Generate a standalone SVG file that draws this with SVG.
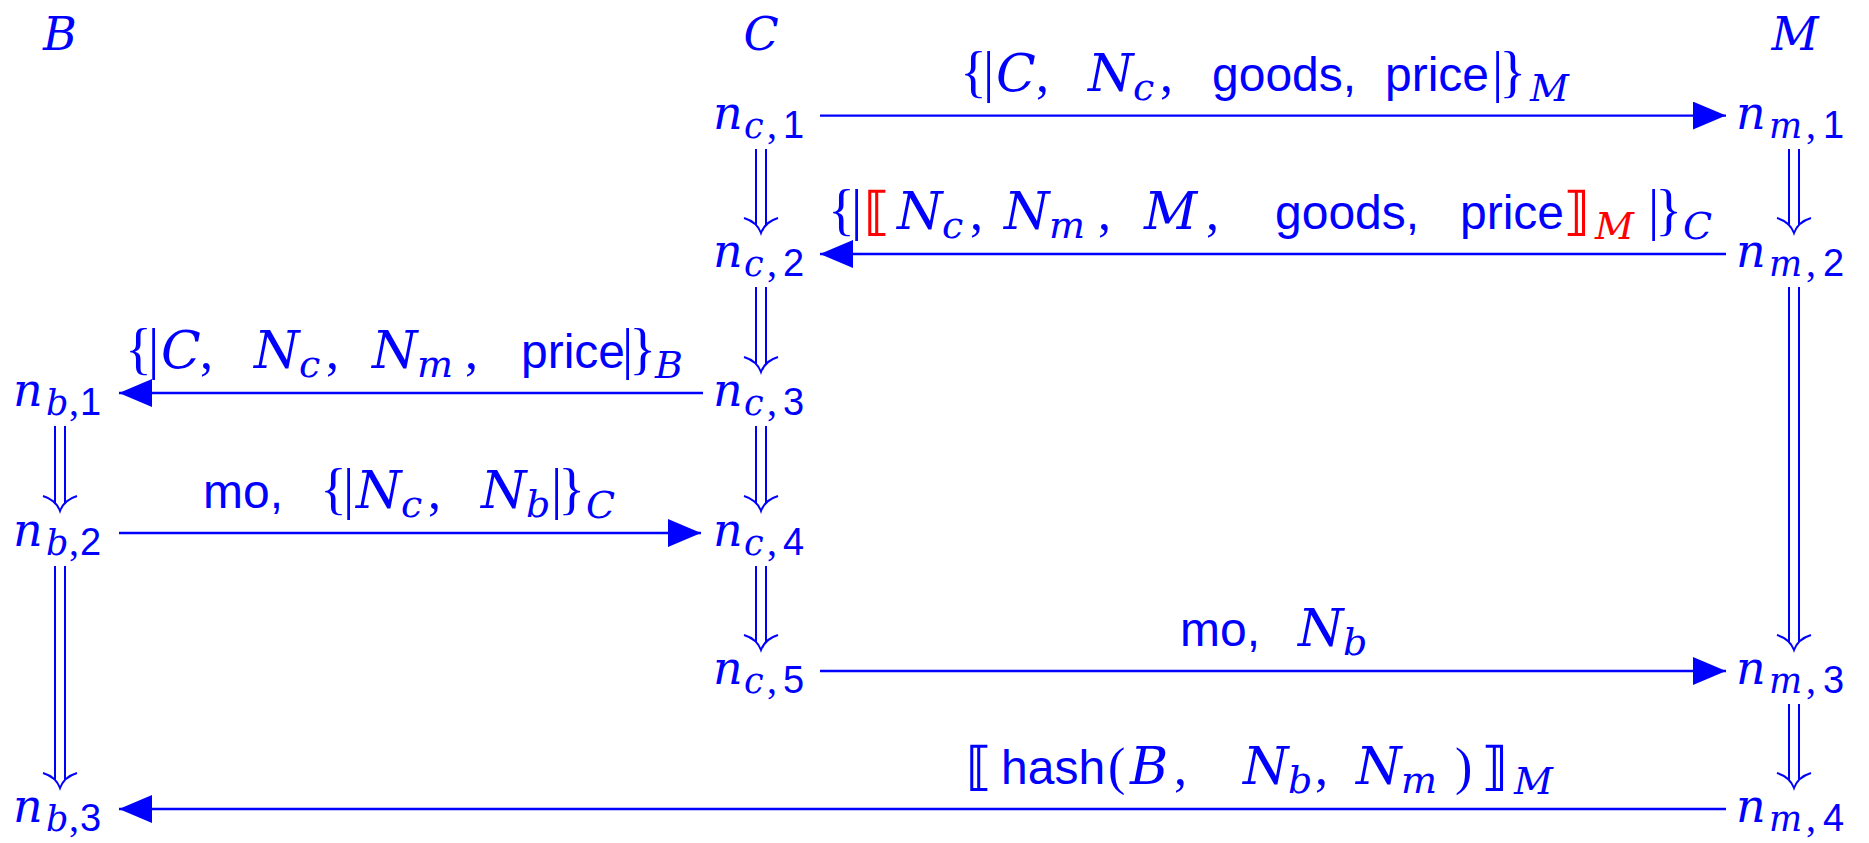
<svg xmlns="http://www.w3.org/2000/svg" width="1869" height="843" viewBox="0 0 1869 843">
<style>
text{fill:#0000ff;font-size:46px}
.mi{font-family:"DejaVu Serif",serif;font-style:italic}
.lb{font-size:52px}
.rm{font-family:"Liberation Serif",serif;font-style:normal;font-size:52px}
.bc{font-family:"Liberation Serif",serif;font-style:normal;font-size:56px}
.sf{font-family:"Liberation Sans",sans-serif;font-style:normal;font-size:48px}
.br{font-family:"DejaVu Sans",sans-serif;font-style:normal;font-weight:bold;font-size:52px}
.sub{font-size:35px}
.lb .sub{font-size:38px}
.sd{font-family:"Liberation Sans",sans-serif;font-style:normal;font-size:38px}
.sc{font-family:"Liberation Serif",serif;font-style:normal;font-size:40px}
.red{fill:#ff0000}
.ln{stroke:#0000ff;stroke-width:2.3;fill:none}
.dl{stroke:#0000ff;stroke-width:2;fill:none}
</style>
<defs>
<marker id="ah" viewBox="0 0 33 28" refX="33" refY="14" markerWidth="33" markerHeight="28" orient="auto" markerUnits="userSpaceOnUse">
<path d="M0,0 L33,14 L0,28 Z" fill="#0000ff"/>
</marker>
</defs>

<g id="headings">
<text class="mi" x="60" y="50" text-anchor="middle">B</text>
<text class="mi" x="761" y="50" text-anchor="middle">C</text>
<text class="mi" x="1795" y="50" text-anchor="middle">M</text>
</g>

<g id="n_c1"><text class="mi"><tspan x="713" y="129">n</tspan><tspan class="sub" x="744" y="138">c</tspan><tspan class="sc" x="767" y="138">,</tspan><tspan class="sd" x="783" y="138">1</tspan></text></g>
<g id="n_c2"><text class="mi"><tspan x="713" y="267">n</tspan><tspan class="sub" x="744" y="276">c</tspan><tspan class="sc" x="767" y="276">,</tspan><tspan class="sd" x="783" y="276">2</tspan></text></g>
<g id="n_c3"><text class="mi"><tspan x="713" y="406">n</tspan><tspan class="sub" x="744" y="415">c</tspan><tspan class="sc" x="767" y="415">,</tspan><tspan class="sd" x="783" y="415">3</tspan></text></g>
<g id="n_c4"><text class="mi"><tspan x="713" y="546">n</tspan><tspan class="sub" x="744" y="555">c</tspan><tspan class="sc" x="767" y="555">,</tspan><tspan class="sd" x="783" y="555">4</tspan></text></g>
<g id="n_c5"><text class="mi"><tspan x="713" y="684">n</tspan><tspan class="sub" x="744" y="693">c</tspan><tspan class="sc" x="767" y="693">,</tspan><tspan class="sd" x="783" y="693">5</tspan></text></g>

<g id="n_m1"><text class="mi"><tspan x="1736" y="129">n</tspan><tspan class="sub" x="1769" y="138">m</tspan><tspan class="sc" x="1806" y="138">,</tspan><tspan class="sd" x="1823" y="138">1</tspan></text></g>
<g id="n_m2"><text class="mi"><tspan x="1736" y="267">n</tspan><tspan class="sub" x="1769" y="276">m</tspan><tspan class="sc" x="1806" y="276">,</tspan><tspan class="sd" x="1823" y="276">2</tspan></text></g>
<g id="n_m3"><text class="mi"><tspan x="1736" y="684">n</tspan><tspan class="sub" x="1769" y="693">m</tspan><tspan class="sc" x="1806" y="693">,</tspan><tspan class="sd" x="1823" y="693">3</tspan></text></g>
<g id="n_m4"><text class="mi"><tspan x="1736" y="822">n</tspan><tspan class="sub" x="1769" y="831">m</tspan><tspan class="sc" x="1806" y="831">,</tspan><tspan class="sd" x="1823" y="831">4</tspan></text></g>

<g id="n_b1"><text class="mi"><tspan x="13" y="406">n</tspan><tspan class="sub" x="46" y="415">b</tspan><tspan class="sc" x="69" y="415">,</tspan><tspan class="sd" x="80" y="415">1</tspan></text></g>
<g id="n_b2"><text class="mi"><tspan x="13" y="546">n</tspan><tspan class="sub" x="46" y="555">b</tspan><tspan class="sc" x="69" y="555">,</tspan><tspan class="sd" x="80" y="555">2</tspan></text></g>
<g id="n_b3"><text class="mi"><tspan x="13" y="822">n</tspan><tspan class="sub" x="46" y="831">b</tspan><tspan class="sc" x="69" y="831">,</tspan><tspan class="sd" x="80" y="831">3</tspan></text></g>

<g id="connectors">
<line class="ln" x1="820" y1="115.6" x2="1726" y2="115.6" marker-end="url(#ah)"/>
<line class="ln" x1="1726" y1="254" x2="820" y2="254" marker-end="url(#ah)"/>
<line class="ln" x1="703" y1="393" x2="119" y2="393" marker-end="url(#ah)"/>
<line class="ln" x1="119" y1="533" x2="701" y2="533" marker-end="url(#ah)"/>
<line class="ln" x1="820" y1="671" x2="1726" y2="671" marker-end="url(#ah)"/>
<line class="ln" x1="1726" y1="809" x2="119" y2="809" marker-end="url(#ah)"/>

<!-- C column double arrows -->
<path class="dl" d="M756,149V225M766,149V225M744,218Q757,222 761,233Q765,222 778,218"/>
<path class="dl" d="M756,287V364M766,287V364M744,357Q757,361 761,372Q765,361 778,357"/>
<path class="dl" d="M756,426V503M766,426V503M744,496Q757,500 761,511Q765,500 778,496"/>
<path class="dl" d="M756,566V642M766,566V642M744,635Q757,639 761,650Q765,639 778,635"/>
<!-- B column -->
<path class="dl" d="M55,426V503M65,426V503M43,496Q56,500 60,511Q64,500 77,496"/>
<path class="dl" d="M55,566V780M65,566V780M43,773Q56,777 60,788Q64,777 77,773"/>
<!-- M column -->
<path class="dl" d="M1789,149V225M1799,149V225M1777,218Q1790,222 1794,233Q1798,222 1811,218"/>
<path class="dl" d="M1789,287V642M1799,287V642M1777,635Q1790,639 1794,650Q1798,639 1811,635"/>
<path class="dl" d="M1789,704V780M1799,704V780M1777,773Q1790,777 1794,788Q1798,777 1811,773"/>
</g>

<g id="label1"><text class="mi lb">
<tspan class="bc" x="960" y="91" letter-spacing="-4">{|</tspan><tspan x="996" y="91">C</tspan><tspan class="rm" x="1036" y="91">,</tspan>
<tspan x="1088" y="91">N</tspan><tspan class="sub" x="1133" y="100">c</tspan><tspan class="rm" x="1160" y="91">,</tspan>
<tspan class="sf" x="1212" y="91">goods,</tspan><tspan class="sf" x="1385" y="91">price</tspan>
<tspan class="bc" x="1492" y="91" letter-spacing="-4">|}</tspan><tspan class="sub" x="1530" y="101">M</tspan>
</text></g>

<g id="label2"><text class="mi lb">
<tspan class="bc" x="828" y="229" letter-spacing="-4">{|</tspan><tspan class="br red" x="864" y="229">⟦</tspan>
<tspan x="897" y="229">N</tspan><tspan class="sub" x="942" y="238">c</tspan><tspan class="rm" x="970" y="229">,</tspan>
<tspan x="1004" y="229">N</tspan><tspan class="sub" x="1049" y="238">m</tspan><tspan class="rm" x="1098" y="229">,</tspan>
<tspan x="1144" y="229">M</tspan><tspan class="rm" x="1206" y="229">,</tspan>
<tspan class="sf" x="1275" y="229">goods,</tspan><tspan class="sf" x="1460" y="229">price</tspan>
<tspan class="br red" x="1563" y="229">⟧</tspan><tspan class="sub red" x="1595" y="239">M</tspan>
<tspan class="bc" x="1648" y="229" letter-spacing="-4">|}</tspan><tspan class="sub" x="1683" y="239">C</tspan>
</text></g>

<g id="label3"><text class="mi lb">
<tspan class="bc" x="125" y="368" letter-spacing="-4">{|</tspan><tspan x="161" y="368">C</tspan><tspan class="rm" x="200" y="368">,</tspan>
<tspan x="254" y="368">N</tspan><tspan class="sub" x="299" y="377">c</tspan><tspan class="rm" x="326" y="368">,</tspan>
<tspan x="372" y="368">N</tspan><tspan class="sub" x="417" y="377">m</tspan><tspan class="rm" x="465" y="368">,</tspan>
<tspan class="sf" x="521" y="368">price</tspan>
<tspan class="bc" x="622" y="368" letter-spacing="-4">|}</tspan><tspan class="sub" x="655" y="378">B</tspan>
</text></g>

<g id="label4"><text class="mi lb">
<tspan class="sf" x="203" y="508">mo,</tspan>
<tspan class="bc" x="320" y="508" letter-spacing="-4">{|</tspan>
<tspan x="356" y="508">N</tspan><tspan class="sub" x="401" y="517">c</tspan><tspan class="rm" x="428" y="508">,</tspan>
<tspan x="481" y="508">N</tspan><tspan class="sub" x="526" y="517">b</tspan>
<tspan class="bc" x="551" y="508" letter-spacing="-4">|}</tspan><tspan class="sub" x="586" y="518">C</tspan>
</text></g>

<g id="label5"><text class="mi lb">
<tspan class="sf" x="1180" y="646">mo,</tspan>
<tspan x="1298" y="646">N</tspan><tspan class="sub" x="1343" y="655">b</tspan>
</text></g>

<g id="label6"><text class="mi lb">
<tspan class="br" x="966" y="784">⟦</tspan><tspan class="sf" x="1001" y="784">hash</tspan><tspan class="rm" x="1108" y="784">(</tspan>
<tspan x="1130" y="784">B</tspan><tspan class="rm" x="1174" y="784">,</tspan>
<tspan x="1243" y="784">N</tspan><tspan class="sub" x="1288" y="793">b</tspan><tspan class="rm" x="1315" y="784">,</tspan>
<tspan x="1356" y="784">N</tspan><tspan class="sub" x="1401" y="793">m</tspan><tspan class="rm" x="1455" y="784">)</tspan>
<tspan class="br" x="1481" y="784">⟧</tspan><tspan class="sub" x="1514" y="794">M</tspan>
</text></g>
</svg>
